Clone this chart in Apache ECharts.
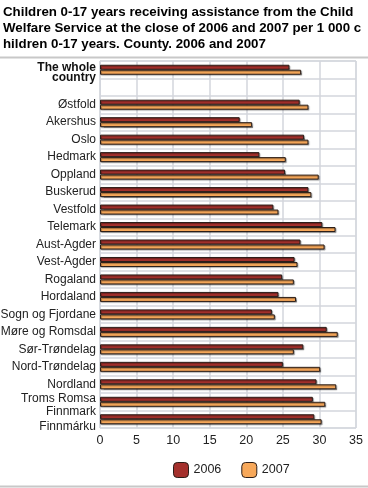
<!DOCTYPE html>
<html>
<head>
<meta charset="utf-8">
<script src="https://cdn.jsdelivr.net/npm/echarts@6/dist/echarts.min.js"></script>
<style>
html,body{margin:0;padding:0;background:#fff;}
#c{width:368px;height:488px;}
</style>
</head>
<body>
<div id="c"></div>
<script>
const titleText = 'Children 0-17 years receiving assistance from the Child\nWelfare Service at the close of 2006 and 2007 per 1 000 c\nhildren 0-17 years. County. 2006 and 2007';
const categories = ['The whole\ncountry', '', 'Østfold', 'Akershus', 'Oslo', 'Hedmark', 'Oppland', 'Buskerud', 'Vestfold', 'Telemark', 'Aust-Agder', 'Vest-Agder', 'Rogaland', 'Hordaland', 'Sogn og Fjordane', 'Møre og Romsdal', 'Sør-Trøndelag', 'Nord-Trøndelag', 'Nordland', 'Troms Romsa', 'Finnmark\nFinnmárku'];
const values2006 = [25.9, null, 27.3, 19.1, 27.9, 21.8, 25.3, 28.5, 23.7, 30.4, 27.4, 26.6, 24.9, 24.4, 23.5, 31.0, 27.8, 25.0, 29.6, 29.1, 29.3];
const values2007 = [27.5, null, 28.5, 20.8, 28.5, 25.4, 29.9, 28.9, 24.4, 32.2, 30.7, 27.0, 26.5, 26.8, 23.9, 32.5, 26.5, 30.1, 32.3, 30.8, 30.3];
const seriesNames = ['2006', '2007'];
const xTicks = [0, 5, 10, 15, 20, 25, 30, 35];

const chart = echarts.init(document.getElementById('c'), null, {renderer: 'canvas'});
const barStyle = (color) => ({
  color: color,
  borderColor: '#2a1d18',
  borderWidth: 1,
  shadowColor: 'rgba(0,0,0,0.35)',
  shadowOffsetX: 1,
  shadowOffsetY: 1,
  shadowBlur: 1
});
chart.setOption({
  animation: false,
  textStyle: {fontFamily: 'Liberation Sans, Arial, sans-serif'},
  title: {
    text: titleText,
    left: 3, top: 4, padding: 0,
    textStyle: {fontSize: 13.3, fontWeight: 'bold', color: '#000', lineHeight: 16, fontFamily: 'Liberation Sans, Arial, sans-serif'}
  },
  graphic: [
    {type: 'line', shape: {x1: 0, y1: 57.5, x2: 368, y2: 57.5}, style: {stroke: '#c8c8c8', lineWidth: 2}},
    {type: 'line', shape: {x1: 0, y1: 486.5, x2: 368, y2: 486.5}, style: {stroke: '#c8c8c8', lineWidth: 2}}
  ],
  legend: {
    data: seriesNames,
    top: 457,
    left: 168,
    itemWidth: 15, itemHeight: 15,
    itemGap: 20,
    textStyle: {fontSize: 12.5, color: '#222'},
    itemStyle: {borderColor: '#2a1d18', borderWidth: 1, shadowBlur: 0, shadowOffsetX: 0, shadowOffsetY: 0}
  },
  grid: {left: 100, right: 12, top: 61, bottom: 60, show: true, borderColor: '#d3d6dd', borderWidth: 1, containLabel: false, outerBoundsMode: 'none'},
  xAxis: {
    type: 'value', min: 0, max: 35, interval: 5,
    axisLine: {show: false}, axisTick: {show: false},
    splitLine: {show: true, lineStyle: {color: '#d3d6dd', width: 1.5}},
    axisLabel: {fontSize: 12.5, color: '#222', margin: 6,
      formatter: (v) => xTicks.includes(v) ? String(v) : ''}
  },
  yAxis: {
    type: 'category', data: categories, inverse: true,
    axisLine: {show: true, lineStyle: {color: '#d3d6dd'}},
    axisTick: {show: false},
    splitLine: {show: true, lineStyle: {color: '#d3d6dd', width: 1.5}},
    axisLabel: {
      interval: 0, fontSize: 12, color: '#222', margin: 4, lineHeight: 15, align: 'right',
      formatter: (v, i) => {
        if (i === 0) { const p = v.split('\n'); return '{b1|' + p[0] + '}\n{b|' + p[1] + '}'; }
        if (i === 19) return '{u|' + v + '}';
        return v;
      },
      rich: {
        b1: {fontWeight: 'bold', fontSize: 12, color: '#111', lineHeight: 15, padding: [11, 0, 0, 0]},
        b: {fontWeight: 'bold', fontSize: 12, color: '#111', lineHeight: 15},
        u: {fontSize: 12, color: '#222', lineHeight: 15, padding: [0, 0, 6, 0]}
      }
    }
  },
  series: [
    {name: seriesNames[0], type: 'bar', data: values2006, barWidth: 5, barGap: '0%', itemStyle: barStyle('#a4302c')},
    {name: seriesNames[1], type: 'bar', data: values2007, barWidth: 5, barGap: '0%', itemStyle: barStyle('#f7a85a')}
  ]
});
</script>
</body>
</html>
